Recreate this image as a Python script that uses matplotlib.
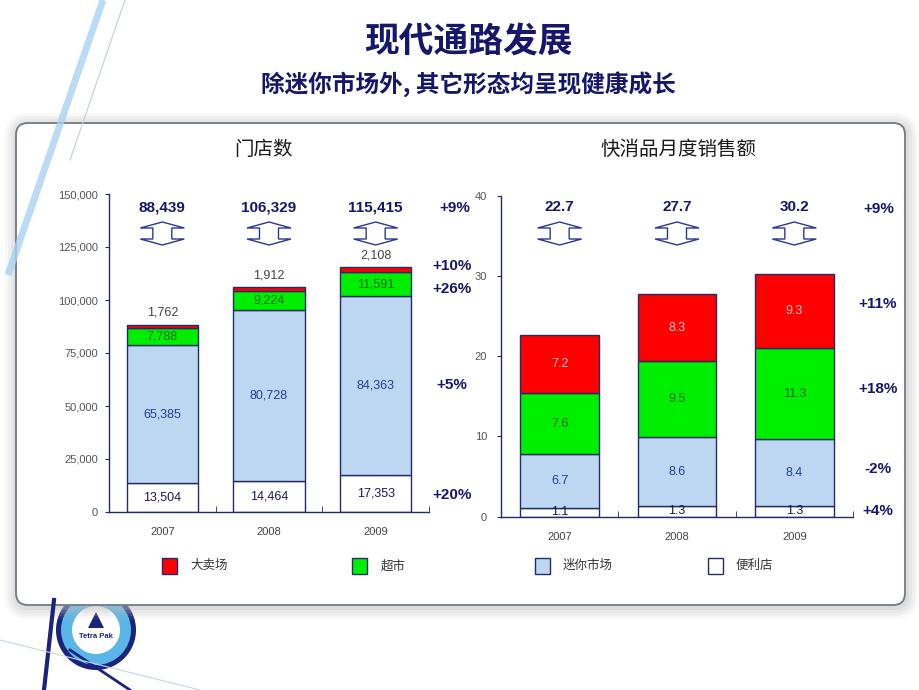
import numpy as np
import matplotlib.pyplot as plt
from matplotlib.patches import FancyBboxPatch, Polygon, Rectangle, Circle

plt.rcParams['font.family'] = ['Liberation Sans', 'Noto Sans CJK SC', 'DejaVu Sans']

# data
years = ['2007', '2008', '2009']
legend_names = ['大卖场', '超市', '迷你市场', '便利店']

stores_conv = [13504, 14464, 17353]
stores_mini = [65385, 80728, 84363]
stores_super = [7788, 9224, 11591]
stores_hyper = [1762, 1912, 2108]
stores_total = [88439, 106329, 115415]
stores_growth = ['+20%', '+5%', '+26%', '+10%']   # conv, mini, super, hyper
stores_total_growth = '+9%'

sales_conv = [1.1, 1.3, 1.3]
sales_mini = [6.7, 8.6, 8.4]
sales_super = [7.6, 9.5, 11.3]
sales_hyper = [7.2, 8.3, 9.3]
sales_total = [22.7, 27.7, 30.2]
sales_growth = ['+4%', '-2%', '+18%', '+11%']
sales_total_growth = '+9%'

# styles
RED = '#ff0000'
GREEN = '#00ee00'
BLUE = '#bdd7f3'
WHITE = '#ffffff'
EDGE = '#232c6a'
NAVY = '#16166a'
W, H = 920, 690

fig = plt.figure(figsize=(W / 100, H / 100), dpi=100)
fig.patch.set_facecolor('white')

# background layer in pixel coordinates (y pointing down)
bg = fig.add_axes([0, 0, 1, 1], zorder=0)
bg.set_xlim(0, W)
bg.set_ylim(H, 0)
bg.axis('off')

# decorative lines
t = np.linspace(0, 1, 50)
bg.plot(103 - 95 * t, 0 + 275 * t, color='#a9d3f0', lw=5, alpha=0.8, solid_capstyle='butt')
bg.plot(125 - 55 * t, 0 + 160 * t, color='#c0cfdd', lw=0.8)
bg.plot(44 + 10 * t, 690 - 90 * t, color='#1a237e', lw=3)
bg.plot(70 + 60 * t, 650 + 40 * t, color='#1a237e', lw=2)
bg.plot(0 + 200 * t, 640 + 50 * t, color='#c5d5e5', lw=0.8)

# logo
bg.add_patch(Circle((96, 630), 40, fc='#1a237e', ec='none'))
bg.add_patch(Circle((96, 630), 35, fc='#5ab6e6', ec='none'))
bg.add_patch(Circle((96, 630), 24, fc='white', ec='none'))
bg.add_patch(Polygon([(88, 628), (96, 612), (104, 628)], closed=True, fc='#1a237e', ec='none'))
bg.text(96, 637, 'Tetra Pak', fontsize=5.5, fontweight='bold', color='#1a237e', ha='center', va='center')

# panel with soft shadow
for e, a in [(12, 0.10), (9, 0.14), (6, 0.18), (3, 0.25)]:
    bg.add_patch(FancyBboxPatch((16 - e + 1, 123 - e + 2), 889 + 2 * e, 482 + 2 * e,
                                boxstyle='round,pad=0,rounding_size=%d' % (12 + e),
                                fc='#bfbfbf', ec='none', alpha=a))
bg.add_patch(FancyBboxPatch((16, 123), 889, 482, boxstyle='round,pad=0,rounding_size=12',
                            fc='white', ec='#6e7b86', lw=1.3))

# titles
bg.text(468, 42, '现代通路发展', fontsize=25, fontweight='bold', color=NAVY,
        ha='center', va='center', family=['Noto Sans CJK SC', 'DejaVu Sans'])
bg.text(468, 84, '除迷你市场外, 其它形态均呈现健康成长', fontsize=17, fontweight='bold',
        color=NAVY, ha='center', va='center', family=['Noto Sans CJK SC', 'DejaVu Sans'])
bg.text(263, 150, '门店数', fontsize=14, color='#1a1a1a', ha='center', va='center')
bg.text(678, 150, '快消品月度销售额', fontsize=14, color='#1a1a1a', ha='center', va='center')

# legend
leg_colors = [RED, GREEN, BLUE, WHITE]
for x, name, c, tx in zip([170, 360, 543, 716], legend_names, leg_colors, [190, 381, 563, 736]):
    bg.add_patch(Rectangle((x - 7.5, 558), 15, 16, fc=c, ec=EDGE, lw=1))
    bg.text(tx, 566, name, fontsize=9, color='#333333', ha='left', va='center')


def double_arrow(cx, top=222, bot=245, hw=22, sw=9.5, hh=6):
    pts = [(cx, top), (cx + hw, top + hh), (cx + sw, top + hh), (cx + sw, bot - hh),
           (cx + hw, bot - hh), (cx, bot), (cx - hw, bot - hh), (cx - sw, bot - hh),
           (cx - sw, top + hh), (cx - hw, top + hh)]
    bg.add_patch(Polygon(pts, closed=True, fc='white', ec='#2b3990', lw=1))


def stacked_chart(ax, layers, ymax, ystep, tick_fmt, val_fmt, totals, total_fmt,
                  hyper_on_top, ypad):
    x = np.arange(len(years))
    colors = [WHITE, BLUE, GREEN, RED]
    label_colors = ['#1a1a4a', '#21408c', '#1f6a1f', '#f6c4c4']
    bottom = np.zeros(len(years))
    for k, (vals, c) in enumerate(zip(layers, colors)):
        bars = ax.bar(x, vals, 0.67, bottom=bottom, color=c, edgecolor=EDGE, linewidth=1)
        if k == 3 and hyper_on_top:
            ax.bar_label(bars, labels=[val_fmt.format(v) for v in vals], padding=4,
                         fontsize=9, color='#444444')
        else:
            ax.bar_label(bars, labels=[val_fmt.format(v) for v in vals], label_type='center',
                         fontsize=9, color=label_colors[k])
        bottom += np.array(vals)
    ax.set_xlim(-0.5, 2.5)
    ax.set_ylim(0, ymax)
    ax.set_yticks(np.arange(0, ymax + 1, ystep))
    ax.set_yticklabels([tick_fmt.format(v) for v in np.arange(0, ymax + 1, ystep)])
    ax.set_xticks(x, years)
    ax.set_xticks([0.5, 1.5, 2.5], minor=True)
    ax.tick_params(axis='x', which='major', length=0, pad=11, labelsize=8, labelcolor='#444444')
    ax.tick_params(axis='x', which='minor', direction='in', length=4, color=EDGE)
    ax.tick_params(axis='y', direction='out', length=3, color=EDGE, labelsize=8,
                   labelcolor='#555555', pad=ypad)
    for s in ['top', 'right']:
        ax.spines[s].set_visible(False)
    for s in ['left', 'bottom']:
        ax.spines[s].set_color(EDGE)
        ax.spines[s].set_linewidth(1)
    ax.set_facecolor('none')
    # totals and arrows above each bar
    for i, tot in enumerate(totals):
        cx = ax.transData.transform((i, 0))[0]
        bg.text(cx, 207, total_fmt.format(tot), fontsize=11, fontweight='bold', color=NAVY,
                ha='center', va='center')
        double_arrow(cx)


ax1 = fig.add_axes([109 / W, (H - 512) / H, 320 / W, 318 / H], zorder=2)
stacked_chart(ax1, [stores_conv, stores_mini, stores_super, stores_hyper], 150000, 25000,
              '{:,.0f}', '{:,.0f}', stores_total, '{:,.0f}', True, 5)

ax2 = fig.add_axes([501 / W, (H - 516.7) / H, 352 / W, 321 / H], zorder=2)
stacked_chart(ax2, [sales_conv, sales_mini, sales_super, sales_hyper], 40, 10,
              '{:.0f}', '{:.1f}', sales_total, '{:.1f}', False, 7)

# growth labels
gkw = dict(fontsize=11, fontweight='bold', color=NAVY, ha='center', va='center')
bg.text(455, 208, stores_total_growth, **gkw)
for g, y in zip(stores_growth, [495, 385, 289, 266]):
    bg.text(452, y, g, **gkw)
bg.text(879, 209, sales_total_growth, **gkw)
for g, y in zip(sales_growth, [511, 469, 389, 304]):
    bg.text(878, y, g, **gkw)

fig.savefig('out.png', dpi=100)
